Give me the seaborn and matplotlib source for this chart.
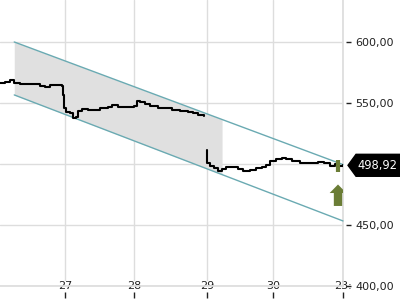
import numpy as np
import pandas as pd
import matplotlib
matplotlib.use("Agg")
import matplotlib.pyplot as plt
from matplotlib.patches import Polygon, FancyArrow
import seaborn as sns

# ---- data ----
seg1_t = [26.065, 26.137, 26.209, 26.266, 26.353, 26.496, 26.640, 26.712, 26.784,
          26.899, 26.957, 26.971, 26.986, 27.014, 27.072, 27.115, 27.158, 27.187,
          27.245, 27.331, 27.432, 27.504, 27.619, 27.676, 27.763, 27.906, 27.993,
          28.036, 28.079, 28.151, 28.223, 28.338, 28.439, 28.540, 28.655, 28.770,
          28.842, 28.914, 29.000]
seg1_v = [566.4, 567.2, 568.9, 566.4, 565.6, 565.6, 563.9, 563.1, 564.8,
          564.8, 563.9, 556.6, 545.9, 542.6, 541.8, 537.7, 538.5, 543.4,
          545.1, 544.3, 544.3, 545.9, 546.7, 548.4, 546.7, 546.7, 547.5,
          551.6, 550.8, 549.2, 547.5, 545.9, 545.9, 544.3, 543.4, 542.6,
          541.8, 540.2, 539.3]
seg2_t = [29.043, 29.043, 29.086, 29.144, 29.201, 29.259, 29.317, 29.403, 29.489,
          29.561, 29.662, 29.748, 29.835, 29.892, 29.950, 30.036, 30.122, 30.180,
          30.266, 30.381, 30.525, 30.640, 30.727, 30.813, 30.885, 30.928, 31.000]
seg2_v = [511.5, 500.8, 498.4, 496.7, 494.3, 495.9, 497.5, 497.5, 495.9,
          494.3, 495.1, 496.7, 497.5, 499.2, 502.5, 504.1, 504.9, 504.1,
          502.5, 500.8, 500.8, 501.6, 500.8, 498.4, 500.0, 498.4, 498.92]

channel_t = [26.27, 31.0]
channel_upper = [600.0, 499.5]
channel_lower = [556.6, 453.3]
shade_end = 29.26

last_price = 498.92
last_label = "498,92"
signal_t = 30.928

x_ticks = [27.0, 28.0, 29.04, 30.0, 31.0]
x_labels = ["27", "28", "29", "30", "23:"]
y_ticks = [400, 450, 500, 550, 600]
y_labels = ["400,00", "450,00", "", "550,00", "600,00"]

# ---- figure ----
sns.set_theme(style="white")
plt.rcParams['font.family'] = ['DejaVu Sans']
fig = plt.figure(figsize=(4, 3), dpi=100)
ax = fig.add_axes([0, 14 / 300, 343 / 400, 286 / 300])
ax.set_xlim(26.065, 31.0)
ax.set_ylim(400, 634.4)

# shaded channel region
ts = np.linspace(channel_t[0], shade_end, 50)
ax.fill_between(ts, np.interp(ts, channel_t, channel_lower),
                np.interp(ts, channel_t, channel_upper),
                color="#e0e0e0", lw=0, zorder=1)

teal = "#6aaab2"
ch = pd.DataFrame({"t": channel_t * 2,
                   "v": channel_upper + channel_lower,
                   "line": ["u", "u", "l", "l"]})
sns.lineplot(data=ch, x="t", y="v", units="line", estimator=None, color=teal,
             lw=1.0, ax=ax, legend=False, zorder=3, clip_on=False)

price = pd.DataFrame({"t": seg1_t + seg2_t, "v": seg1_v + seg2_v,
                      "seg": [1] * len(seg1_t) + [2] * len(seg2_t)})
sns.lineplot(data=price, x="t", y="v", units="seg", estimator=None, sort=False,
             color="black", lw=1.5, drawstyle="steps-post", ax=ax, legend=False,
             zorder=4)

olive = "#6b7d36"
# signal bar & arrow
ax.plot([signal_t, signal_t], [493.4, 503.6], color=olive, lw=3, zorder=5,
        solid_capstyle="butt")
ax.add_patch(FancyArrow(signal_t, 465.6, 0, 17.6, width=0.12, head_width=0.24,
                        head_length=7.0, length_includes_head=True,
                        color=olive, lw=0, zorder=5))

# last price label
tr = ax.get_yaxis_transform()
poly = Polygon([(1.0146, last_price), (1.038, last_price + 9.0), (1.17, last_price + 9.0),
                (1.17, last_price - 9.0), (1.038, last_price - 9.0)],
               closed=True, transform=tr, clip_on=False, color="black", zorder=6)
ax.add_patch(poly)
ax.text(1.101, last_price, last_label, transform=tr, color="white", fontsize=8.3,
        ha="center", va="center", zorder=7, clip_on=False)

# axes styling
ax.set_xticks(x_ticks)
ax.set_xticklabels(x_labels)
ax.set_yticks(y_ticks)
ax.set_yticklabels(y_labels)
ax.yaxis.tick_right()
ax.grid(True, color="#dddddd", lw=1)
ax.set_axisbelow(True)
for s in ["top", "left"]:
    ax.spines[s].set_visible(False)
ax.spines["bottom"].set_color("#dddddd")
ax.spines["right"].set_color("#dddddd")
ax.tick_params(axis="y", which="major", length=0, pad=8.6, labelsize=8,
               labelcolor="#222222", labelright=True, labelleft=False)
ax.tick_params(axis="x", which="major", length=0, pad=-3.5, labelsize=8,
               labelcolor="#222222", labelbottom=True)
for lab in ax.get_xticklabels():
    lab.set_bbox(dict(facecolor="white", edgecolor="none", pad=0.2))
    lab.set_zorder(10)

# tick marks drawn offset from the axes like the reference
xtr = ax.get_xaxis_transform()
ax.vlines(x_ticks, -12 / 286, -6 / 286, transform=xtr, colors="#222222", lw=1,
          clip_on=False, zorder=11)
ytk = [v for v, l in zip(y_ticks, y_labels) if l]
ax.hlines(ytk, 346 / 343, 351 / 343, transform=tr, colors="#222222", lw=1,
          clip_on=False, zorder=11)
ax.set_xlabel("")
ax.set_ylabel("")

fig.savefig("out.png", dpi=100)
